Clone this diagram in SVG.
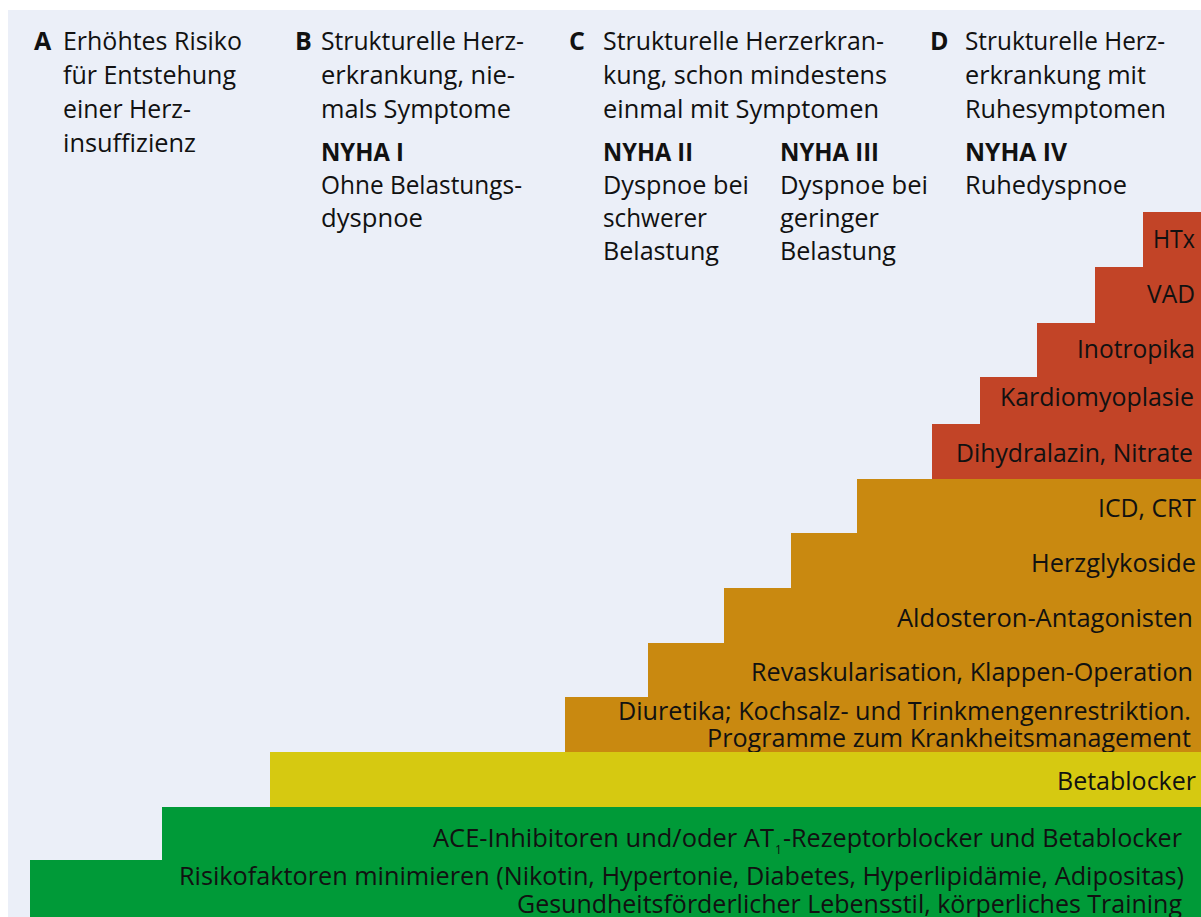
<svg xmlns="http://www.w3.org/2000/svg" width="1201" height="917" viewBox="0 0 1201 917">
<style>
text{font-family:"Open Sans","Noto Sans","Liberation Sans",sans-serif;font-size:25px;fill:#111}
.b{font-weight:bold}
.red{fill:#c24427}
.org{fill:#c98910}
.yel{fill:#d6c911}
.grn{fill:#009a38}
</style>
<rect x="0" y="0" width="1201" height="917" fill="#ffffff"/>
<rect x="8" y="10" width="1193" height="907" fill="#ebeff8"/>

<g id="header-A">
<text x="34" y="50" class="b">A</text>
<text x="63" y="50" textLength="179" lengthAdjust="spacingAndGlyphs">Erhöhtes Risiko</text>
<text x="63" y="84" textLength="173" lengthAdjust="spacingAndGlyphs">für Entstehung</text>
<text x="63" y="118" textLength="128" lengthAdjust="spacingAndGlyphs">einer Herz-</text>
<text x="63" y="152" textLength="133" lengthAdjust="spacingAndGlyphs">insuffizienz</text>
</g>
<g id="header-B">
<text x="295" y="50" class="b">B</text>
<text x="321" y="50" textLength="203" lengthAdjust="spacingAndGlyphs">Strukturelle Herz-</text>
<text x="321" y="84" textLength="194" lengthAdjust="spacingAndGlyphs">erkrankung, nie-</text>
<text x="321" y="118" textLength="190" lengthAdjust="spacingAndGlyphs">mals Symptome</text>
<text x="321" y="161" class="b" textLength="83" lengthAdjust="spacingAndGlyphs">NYHA I</text>
<text x="321" y="194" textLength="201" lengthAdjust="spacingAndGlyphs">Ohne Belastungs-</text>
<text x="321" y="227" textLength="102" lengthAdjust="spacingAndGlyphs">dyspnoe</text>
</g>
<g id="header-C">
<text x="569" y="50" class="b">C</text>
<text x="603" y="50" textLength="281" lengthAdjust="spacingAndGlyphs">Strukturelle Herzerkran-</text>
<text x="603" y="84" textLength="284" lengthAdjust="spacingAndGlyphs">kung, schon mindestens</text>
<text x="603" y="118" textLength="276" lengthAdjust="spacingAndGlyphs">einmal mit Symptomen</text>
<text x="603" y="161" class="b" textLength="90" lengthAdjust="spacingAndGlyphs">NYHA II</text>
<text x="603" y="194" textLength="146" lengthAdjust="spacingAndGlyphs">Dyspnoe bei</text>
<text x="603" y="227" textLength="104" lengthAdjust="spacingAndGlyphs">schwerer</text>
<text x="603" y="260" textLength="116" lengthAdjust="spacingAndGlyphs">Belastung</text>
<text x="780" y="161" class="b" textLength="99" lengthAdjust="spacingAndGlyphs">NYHA III</text>
<text x="780" y="194" textLength="148" lengthAdjust="spacingAndGlyphs">Dyspnoe bei</text>
<text x="780" y="227" textLength="99" lengthAdjust="spacingAndGlyphs">geringer</text>
<text x="780" y="260" textLength="116" lengthAdjust="spacingAndGlyphs">Belastung</text>
</g>
<g id="header-D">
<text x="930" y="50" class="b">D</text>
<text x="965" y="50" textLength="200" lengthAdjust="spacingAndGlyphs">Strukturelle Herz-</text>
<text x="965" y="84" textLength="181" lengthAdjust="spacingAndGlyphs">erkrankung mit</text>
<text x="965" y="118" textLength="201" lengthAdjust="spacingAndGlyphs">Ruhesymptomen</text>
<text x="965" y="161" class="b" textLength="102" lengthAdjust="spacingAndGlyphs">NYHA IV</text>
<text x="965" y="194" textLength="162" lengthAdjust="spacingAndGlyphs">Ruhedyspnoe</text>
</g>

<g id="step-htx"><rect class="red" x="1143" y="212" width="58" height="56"/><text x="1153" y="248" textLength="42" lengthAdjust="spacingAndGlyphs">HTx</text></g>
<g id="step-vad"><rect class="red" x="1095" y="267" width="106" height="57"/><text x="1147" y="303" textLength="48" lengthAdjust="spacingAndGlyphs">VAD</text></g>
<g id="step-inotropika"><rect class="red" x="1037" y="323" width="164" height="55"/><text x="1077" y="358" textLength="118" lengthAdjust="spacingAndGlyphs">Inotropika</text></g>
<g id="step-kardiomyoplasie"><rect class="red" x="980" y="377" width="221" height="48"/><text x="1000" y="406" textLength="194" lengthAdjust="spacingAndGlyphs">Kardiomyoplasie</text></g>
<g id="step-dihydralazin"><rect class="red" x="932" y="424" width="269" height="56"/><text x="956" y="462" textLength="237" lengthAdjust="spacingAndGlyphs">Dihydralazin, Nitrate</text></g>

<g id="step-icd"><rect class="org" x="857" y="479" width="344" height="55"/><text x="1098" y="517" textLength="98" lengthAdjust="spacingAndGlyphs">ICD, CRT</text></g>
<g id="step-herzglykoside"><rect class="org" x="791" y="533" width="410" height="56"/><text x="1031" y="572" textLength="165" lengthAdjust="spacingAndGlyphs">Herzglykoside</text></g>
<g id="step-aldosteron"><rect class="org" x="724" y="588" width="477" height="56"/><text x="897" y="627" textLength="296" lengthAdjust="spacingAndGlyphs">Aldosteron-Antagonisten</text></g>
<g id="step-revaskularisation"><rect class="org" x="648" y="643" width="553" height="55"/><text x="751" y="681" textLength="442" lengthAdjust="spacingAndGlyphs">Revaskularisation, Klappen-Operation</text></g>
<g id="step-diuretika"><rect class="org" x="565" y="697" width="636" height="56"/><text x="618" y="720" textLength="573" lengthAdjust="spacingAndGlyphs">Diuretika; Kochsalz- und Trinkmengenrestriktion.</text><text x="707" y="747" textLength="484" lengthAdjust="spacingAndGlyphs">Programme zum Krankheitsmanagement</text></g>

<g id="step-betablocker"><rect class="yel" x="270" y="752" width="931" height="56"/><text x="1057" y="790" textLength="139" lengthAdjust="spacingAndGlyphs">Betablocker</text></g>

<g id="step-ace"><rect class="grn" x="162" y="807" width="1039" height="54"/><text x="433" y="847" textLength="341" lengthAdjust="spacingAndGlyphs">ACE-Inhibitoren und/oder AT</text><text x="775" y="854" style="font-size:12px">1</text><text x="783" y="847" textLength="399" lengthAdjust="spacingAndGlyphs">-Rezeptorblocker und Betablocker</text></g>
<g id="step-risiko"><rect class="grn" x="30" y="860" width="1171" height="57"/><text x="179" y="885" textLength="1005" lengthAdjust="spacingAndGlyphs">Risikofaktoren minimieren (Nikotin, Hypertonie, Diabetes, Hyperlipidämie, Adipositas)</text><text x="517" y="913" textLength="665" lengthAdjust="spacingAndGlyphs">Gesundheitsförderlicher Lebensstil, körperliches Training</text></g>

<g id="connectors"></g>
</svg>
